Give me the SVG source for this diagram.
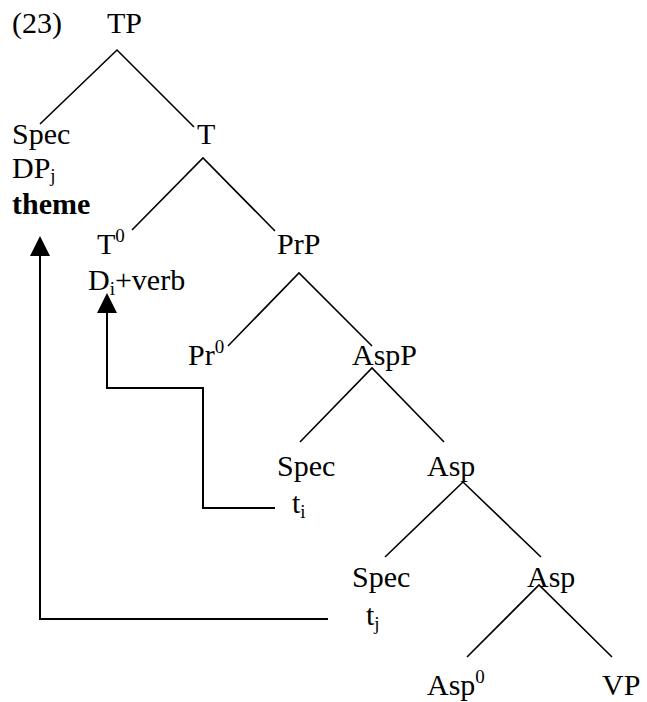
<svg xmlns="http://www.w3.org/2000/svg" width="647" height="702" viewBox="0 0 647 702">
<style>
text{font-family:"Liberation Serif","Times New Roman",serif;font-size:30px;fill:#000}
.b{font-weight:bold}
.sup{font-size:19px}
.sub{font-size:19px}
.edge{stroke:#000;stroke-width:1.6;fill:none}
.mv{stroke:#000;stroke-width:2;fill:none}
.ah{fill:#000;stroke:none}
</style>
<rect width="647" height="702" fill="#fff"/>
<text id="exnum" x="12" y="33">(23)</text>
<g id="connectors">
<path class="edge" d="M40,124 L117,50 L194,127"/>
<path class="edge" d="M132,230 L203,158 L275,231"/>
<path class="edge" d="M228,346 L299,273 L372,346"/>
<path class="edge" d="M300,442 L372,368 L444,442"/>
<path class="edge" d="M385,557 L463,482 L541,557"/>
<path class="edge" d="M467,657 L539,585 L612,657"/>
<path class="mv" d="M328,619 H40 V254"/>
<polygon class="ah" points="40,236 30,256 50,256"/>
<path class="mv" d="M275,508 H203 V388 H107 V311"/>
<polygon class="ah" points="107,293 97,313 117,313"/>
</g>
<g id="n-TP"><text x="107" y="33">TP</text></g>
<g id="n-SpecDP"><text x="12" y="144">Spec</text><text x="12" y="178">DP<tspan class="sub" dy="4">j</tspan></text><text class="b" x="12" y="214">theme</text></g>
<g id="n-T"><text x="197" y="144">T</text></g>
<g id="n-T0"><text x="97" y="254">T<tspan class="sup" dy="-12">0</tspan></text><text x="88" y="290">D<tspan class="sub" dy="5">i</tspan><tspan dy="-5">+verb</tspan></text></g>
<g id="n-PrP"><text x="277" y="254">PrP</text></g>
<g id="n-Pr0"><text x="188" y="365">Pr<tspan class="sup" dy="-12">0</tspan></text></g>
<g id="n-AspP"><text x="352" y="365">AspP</text></g>
<g id="n-SpecTi"><text x="277" y="476">Spec</text><text x="292" y="513">t<tspan class="sub" dy="5">i</tspan></text></g>
<g id="n-Asp1"><text x="427" y="476">Asp</text></g>
<g id="n-SpecTj"><text x="352" y="587">Spec</text><text x="366" y="625">t<tspan class="sub" dy="5">j</tspan></text></g>
<g id="n-Asp2"><text x="527" y="587">Asp</text></g>
<g id="n-Asp0"><text x="427" y="695">Asp<tspan class="sup" dy="-12">0</tspan></text></g>
<g id="n-VP"><text x="602" y="695">VP</text></g>
</svg>
